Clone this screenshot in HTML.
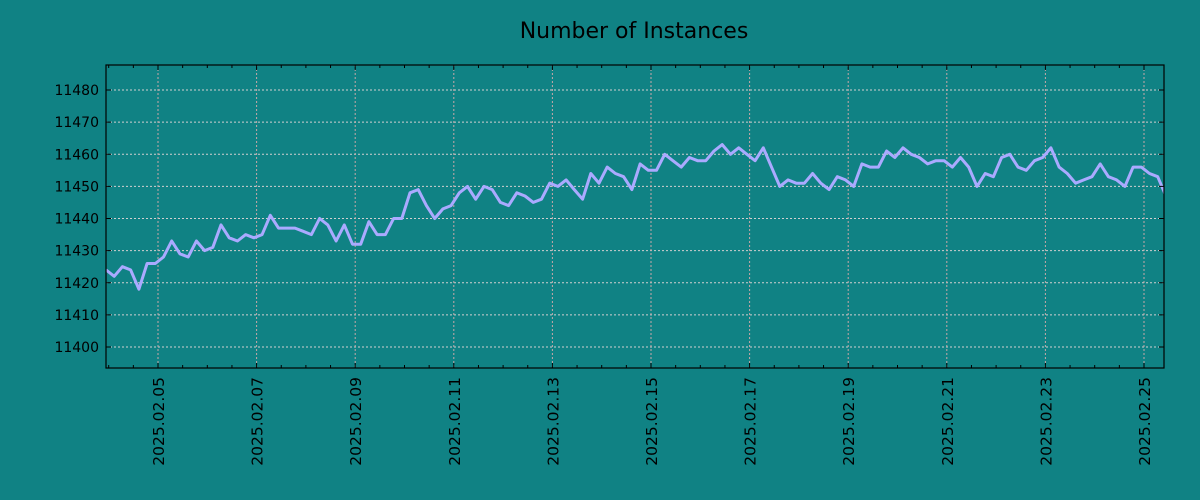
<!DOCTYPE html>
<html><head><meta charset="utf-8"><style>
html,body{margin:0;padding:0;background:#108284;}
svg{display:block;font-family:"DejaVu Sans","Liberation Sans",sans-serif;}
</style></head><body>
<svg id="chart" width="1200" height="500">
<rect width="1200" height="500" fill="#108284"/>
<text x="634" y="38" font-size="22" text-anchor="middle" fill="#000">Number of Instances</text>
<g id="grid"></g><g id="series"></g><g id="axes"></g>
</svg>
<script>
const values=[11424,11422,11425,11424,11418,11426,11426,11428,11433,11429,11428,11433,11430,11431,11438,11434,11433,11435,11434,11435,11441,11437,11437,11437,11436,11435,11440,11438,11433,11438,11432,11432,11439,11435,11435,11440,11440,11448,11449,11444,11440,11443,11444,11448,11450,11446,11450,11449,11445,11444,11448,11447,11445,11446,11451,11450,11452,11449,11446,11454,11451,11456,11454,11453,11449,11457,11455,11455,11460,11458,11456,11459,11458,11458,11461,11463,11460,11462,11460,11458,11462,11456,11450,11452,11451,11451,11454,11451,11449,11453,11452,11450,11457,11456,11456,11461,11459,11462,11460,11459,11457,11458,11458,11456,11459,11456,11450,11454,11453,11459,11460,11456,11455,11458,11459,11462,11456,11454,11451,11452,11453,11457,11453,11452,11450,11456,11456,11454,11453,11447];
const yTicks=[11400,11410,11420,11430,11440,11450,11460,11470,11480];
const xTickLabels=["2025.02.05","2025.02.07","2025.02.09","2025.02.11","2025.02.13","2025.02.15","2025.02.17","2025.02.19","2025.02.21","2025.02.23","2025.02.25"];
const startDay=-1.055, stepDays=4/24; // days relative to 2025.02.05
const L=106,R=1164,T=65,B=368;
const pxPerDay=49.3, x0=158;
function xs(d){return x0+d*pxPerDay;}
function ys(v){return 90+(11480-v)*3.2125;}
const NS="http://www.w3.org/2000/svg";
function mk(p,t,a){const e=document.createElementNS(NS,t);for(const k in a)e.setAttribute(k,a[k]);p.appendChild(e);return e;}
const grid=document.getElementById('grid'),ser=document.getElementById('series'),axes=document.getElementById('axes');
mk(grid,'rect',{x:L,y:T,width:R-L,height:B-T,fill:'#108284'});
yTicks.forEach(v=>{const y=ys(v);
const g=mk(grid,'line',{x1:L,x2:R,y1:y,y2:y,stroke:'#d0d0d0','stroke-dasharray':'2,2','stroke-width':1});


mk(axes,'line',{x1:L,x2:L+5,y1:y,y2:y,stroke:'#000'});
mk(axes,'line',{x1:R-5,x2:R,y1:y,y2:y,stroke:'#000'});
const t=mk(axes,'text',{x:L-7,y:y+5,'font-size':14,'text-anchor':'end',fill:'#000'});t.textContent=v;


});
for(let h=-2;h<=42;h++){const x=xs(h/2);if(x<L||x>R)continue;
mk(axes,'line',{x1:x,x2:x,y1:B,y2:B-(h%4==0?5:3),stroke:'#000'});
mk(axes,'line',{x1:x,x2:x,y1:T,y2:T+(h%4==0?5:3),stroke:'#000'});}
xTickLabels.forEach((s,i)=>{const x=xs(i*2);
const g=mk(grid,'line',{x1:x,x2:x,y1:T,y2:B,stroke:'#c8a8a8','stroke-dasharray':'2,2','stroke-width':1});


const t=mk(axes,'text',{x:0,y:0,'font-size':15.5,'text-anchor':'end',fill:'#000',transform:`translate(${x+6},377) rotate(-90)`});t.textContent=s;


});
const pts=values.map((v,i)=>xs(startDay+i*stepDays).toFixed(1)+','+ys(v).toFixed(1)).join(' ');
const cp=mk(ser,'clipPath',{id:'cp'});mk(cp,'rect',{x:L,y:T,width:R-L,height:B-T});
const pl=mk(ser,'polyline',{points:pts,fill:'none',stroke:'#aaaaff','stroke-width':3,'stroke-linejoin':'round','clip-path':'url(#cp)'});


const fr=mk(axes,'rect',{x:L,y:T,width:R-L,height:B-T,fill:'none',stroke:'#000','stroke-width':1.2});


</script>
</body></html>
